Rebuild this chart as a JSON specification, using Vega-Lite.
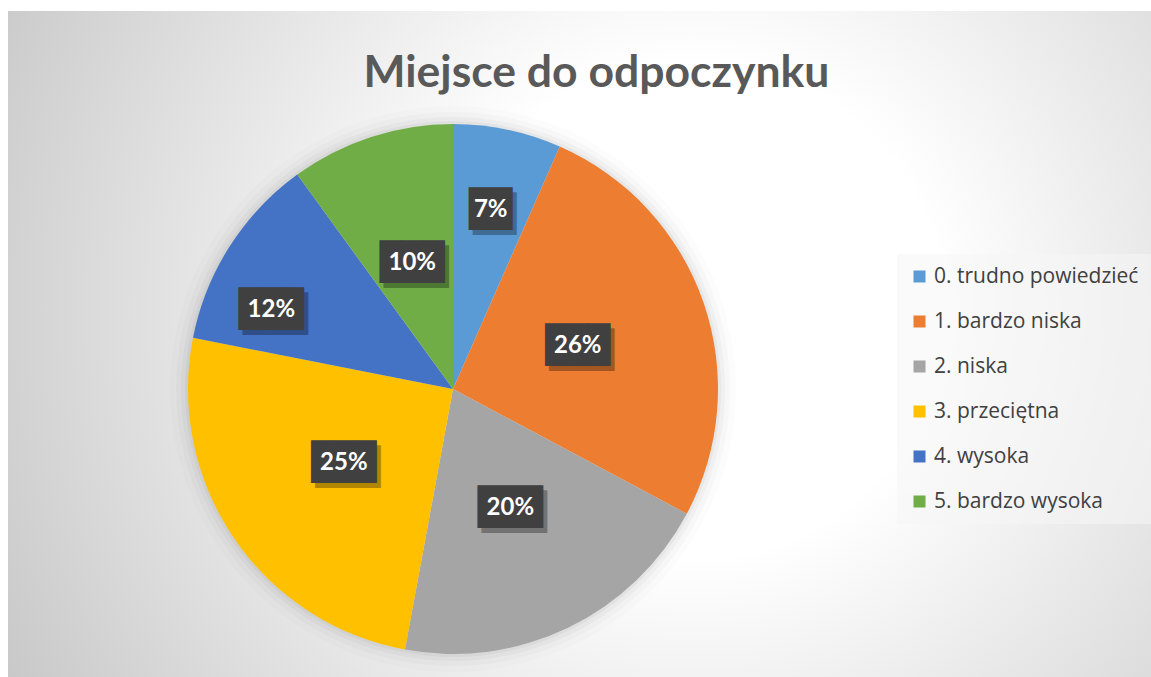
{
  "$schema": "https://vega.github.io/schema/vega-lite/v6.json",
  "autosize": {"type": "fit", "contains": "padding"},
  "width": 1151,
  "height": 677,
  "padding": {"left": 8, "top": 11, "right": 0, "bottom": 0},
  "background": "#ffffff",
  "config": {"view": {"stroke": null}},
  "title": {
    "text": "Miejsce do odpoczynku",
    "font": "Lato",
    "fontSize": 44.5,
    "fontWeight": "bold",
    "color": "#595959",
    "anchor": "middle",
    "frame": "group",
    "offset": -85,
    "dx": 17
  },
  "datasets": {
    "d": [
      {"cat": "0. trudno powiedzieć", "value": 0.066},
      {"cat": "1. bardzo niska", "value": 0.262},
      {"cat": "2. niska", "value": 0.201},
      {"cat": "3. przeciętna", "value": 0.252},
      {"cat": "4. wysoka", "value": 0.119},
      {"cat": "5. bardzo wysoka", "value": 0.100}
    ]
  },
  "layer": [
    {
      "data": {"values": [{}]},
      "mark": {
        "type": "rect",
        "color": {
          "gradient": "radial",
          "x1": 0.6, "y1": 0.47, "r1": 0,
          "x2": 0.6, "y2": 0.47, "r2": 0.72,
          "stops": [
            {"offset": 0, "color": "#ffffff"},
            {"offset": 0.3, "color": "#ffffff"},
            {"offset": 1, "color": "#c4c4c4"}
          ]
        }
      },
      "encoding": {}
    },
    {
      "data": {"values": [{}]},
      "mark": {"type": "arc", "outerRadius": 283, "x": 445, "y": 378, "color": "#000000", "opacity": 0.012},
      "encoding": {}
    },
    {
      "data": {"values": [{}]},
      "mark": {"type": "arc", "outerRadius": 277, "x": 445, "y": 378, "color": "#000000", "opacity": 0.02},
      "encoding": {}
    },
    {
      "data": {"values": [{}]},
      "mark": {"type": "arc", "outerRadius": 272, "x": 445, "y": 378, "color": "#000000", "opacity": 0.028},
      "encoding": {}
    },
    {
      "data": {"values": [{}]},
      "mark": {"type": "arc", "outerRadius": 268, "x": 445, "y": 378, "color": "#000000", "opacity": 0.035},
      "encoding": {}
    },
    {
      "data": {"name": "d"},
      "mark": {"type": "arc", "outerRadius": 265, "x": 445, "y": 378},
      "encoding": {
        "theta": {"field": "value", "type": "quantitative", "stack": true},
        "order": {"field": "cat", "type": "ordinal", "sort": "ascending"},
        "color": {
          "field": "cat",
          "type": "nominal",
          "scale": {
            "domain": ["0. trudno powiedzieć", "1. bardzo niska", "2. niska", "3. przeciętna", "4. wysoka", "5. bardzo wysoka"],
            "range": ["#5b9bd5", "#ed7d31", "#a5a5a5", "#ffc000", "#4472c4", "#70ad47"]
          },
          "legend": {
            "title": null,
            "orient": "none",
            "legendX": 889,
            "legendY": 243,
            "padding": 12,
            "fillColor": "rgba(245,245,245,0.55)",
            "symbolType": "square",
            "symbolSize": 144,
            "symbolStrokeWidth": 0,
            "labelFont": "Open Sans",
            "labelFontSize": 21,
            "labelColor": "#404040",
            "labelLimit": 400,
            "labelOffset": 4,
            "rowPadding": 23
          }
        }
      }
    },
    {
      "data": {"name": "d"},
      "mark": {"type": "text", "text": {"expr": "datum.value < 0.08 ? '██' : '███'"}, "font": "DejaVu Sans Mono", "fontSize": 36, "color": "#000000", "opacity": 0.3, "align": "center", "baseline": "middle", "x": 449, "y": 383, "radius": {"expr": "datum.cat === '0. trudno powiedzieć' ? 183 : datum.cat === '4. wysoka' ? 198 : 132"}, "thetaOffset": {"expr": "datum.cat === '4. wysoka' ? -0.16 : 0"}},
      "encoding": {
        "theta": {"field": "value", "type": "quantitative", "stack": true},
        "order": {"field": "cat", "type": "ordinal", "sort": "ascending"}
      }
    },
    {
      "data": {"name": "d"},
      "mark": {"type": "text", "text": {"expr": "datum.value < 0.08 ? '██' : '███'"}, "font": "DejaVu Sans Mono", "fontSize": 36, "color": "#404040", "align": "center", "baseline": "middle", "x": 445, "y": 378, "radius": {"expr": "datum.cat === '0. trudno powiedzieć' ? 183 : datum.cat === '4. wysoka' ? 198 : 132"}, "thetaOffset": {"expr": "datum.cat === '4. wysoka' ? -0.16 : 0"}},
      "encoding": {
        "theta": {"field": "value", "type": "quantitative", "stack": true},
        "order": {"field": "cat", "type": "ordinal", "sort": "ascending"}
      }
    },
    {
      "data": {"name": "d"},
      "mark": {"type": "text", "font": "Lato", "fontSize": 24, "fontWeight": "bold", "color": "#ffffff", "align": "center", "baseline": "middle", "x": 445, "y": 378, "radius": {"expr": "datum.cat === '0. trudno powiedzieć' ? 183 : datum.cat === '4. wysoka' ? 198 : 132"}, "thetaOffset": {"expr": "datum.cat === '4. wysoka' ? -0.16 : 0"}},
      "encoding": {
        "theta": {"field": "value", "type": "quantitative", "stack": true},
        "order": {"field": "cat", "type": "ordinal", "sort": "ascending"},
        "text": {"field": "value", "type": "quantitative", "format": ".0%"}
      }
    }
  ]
}
